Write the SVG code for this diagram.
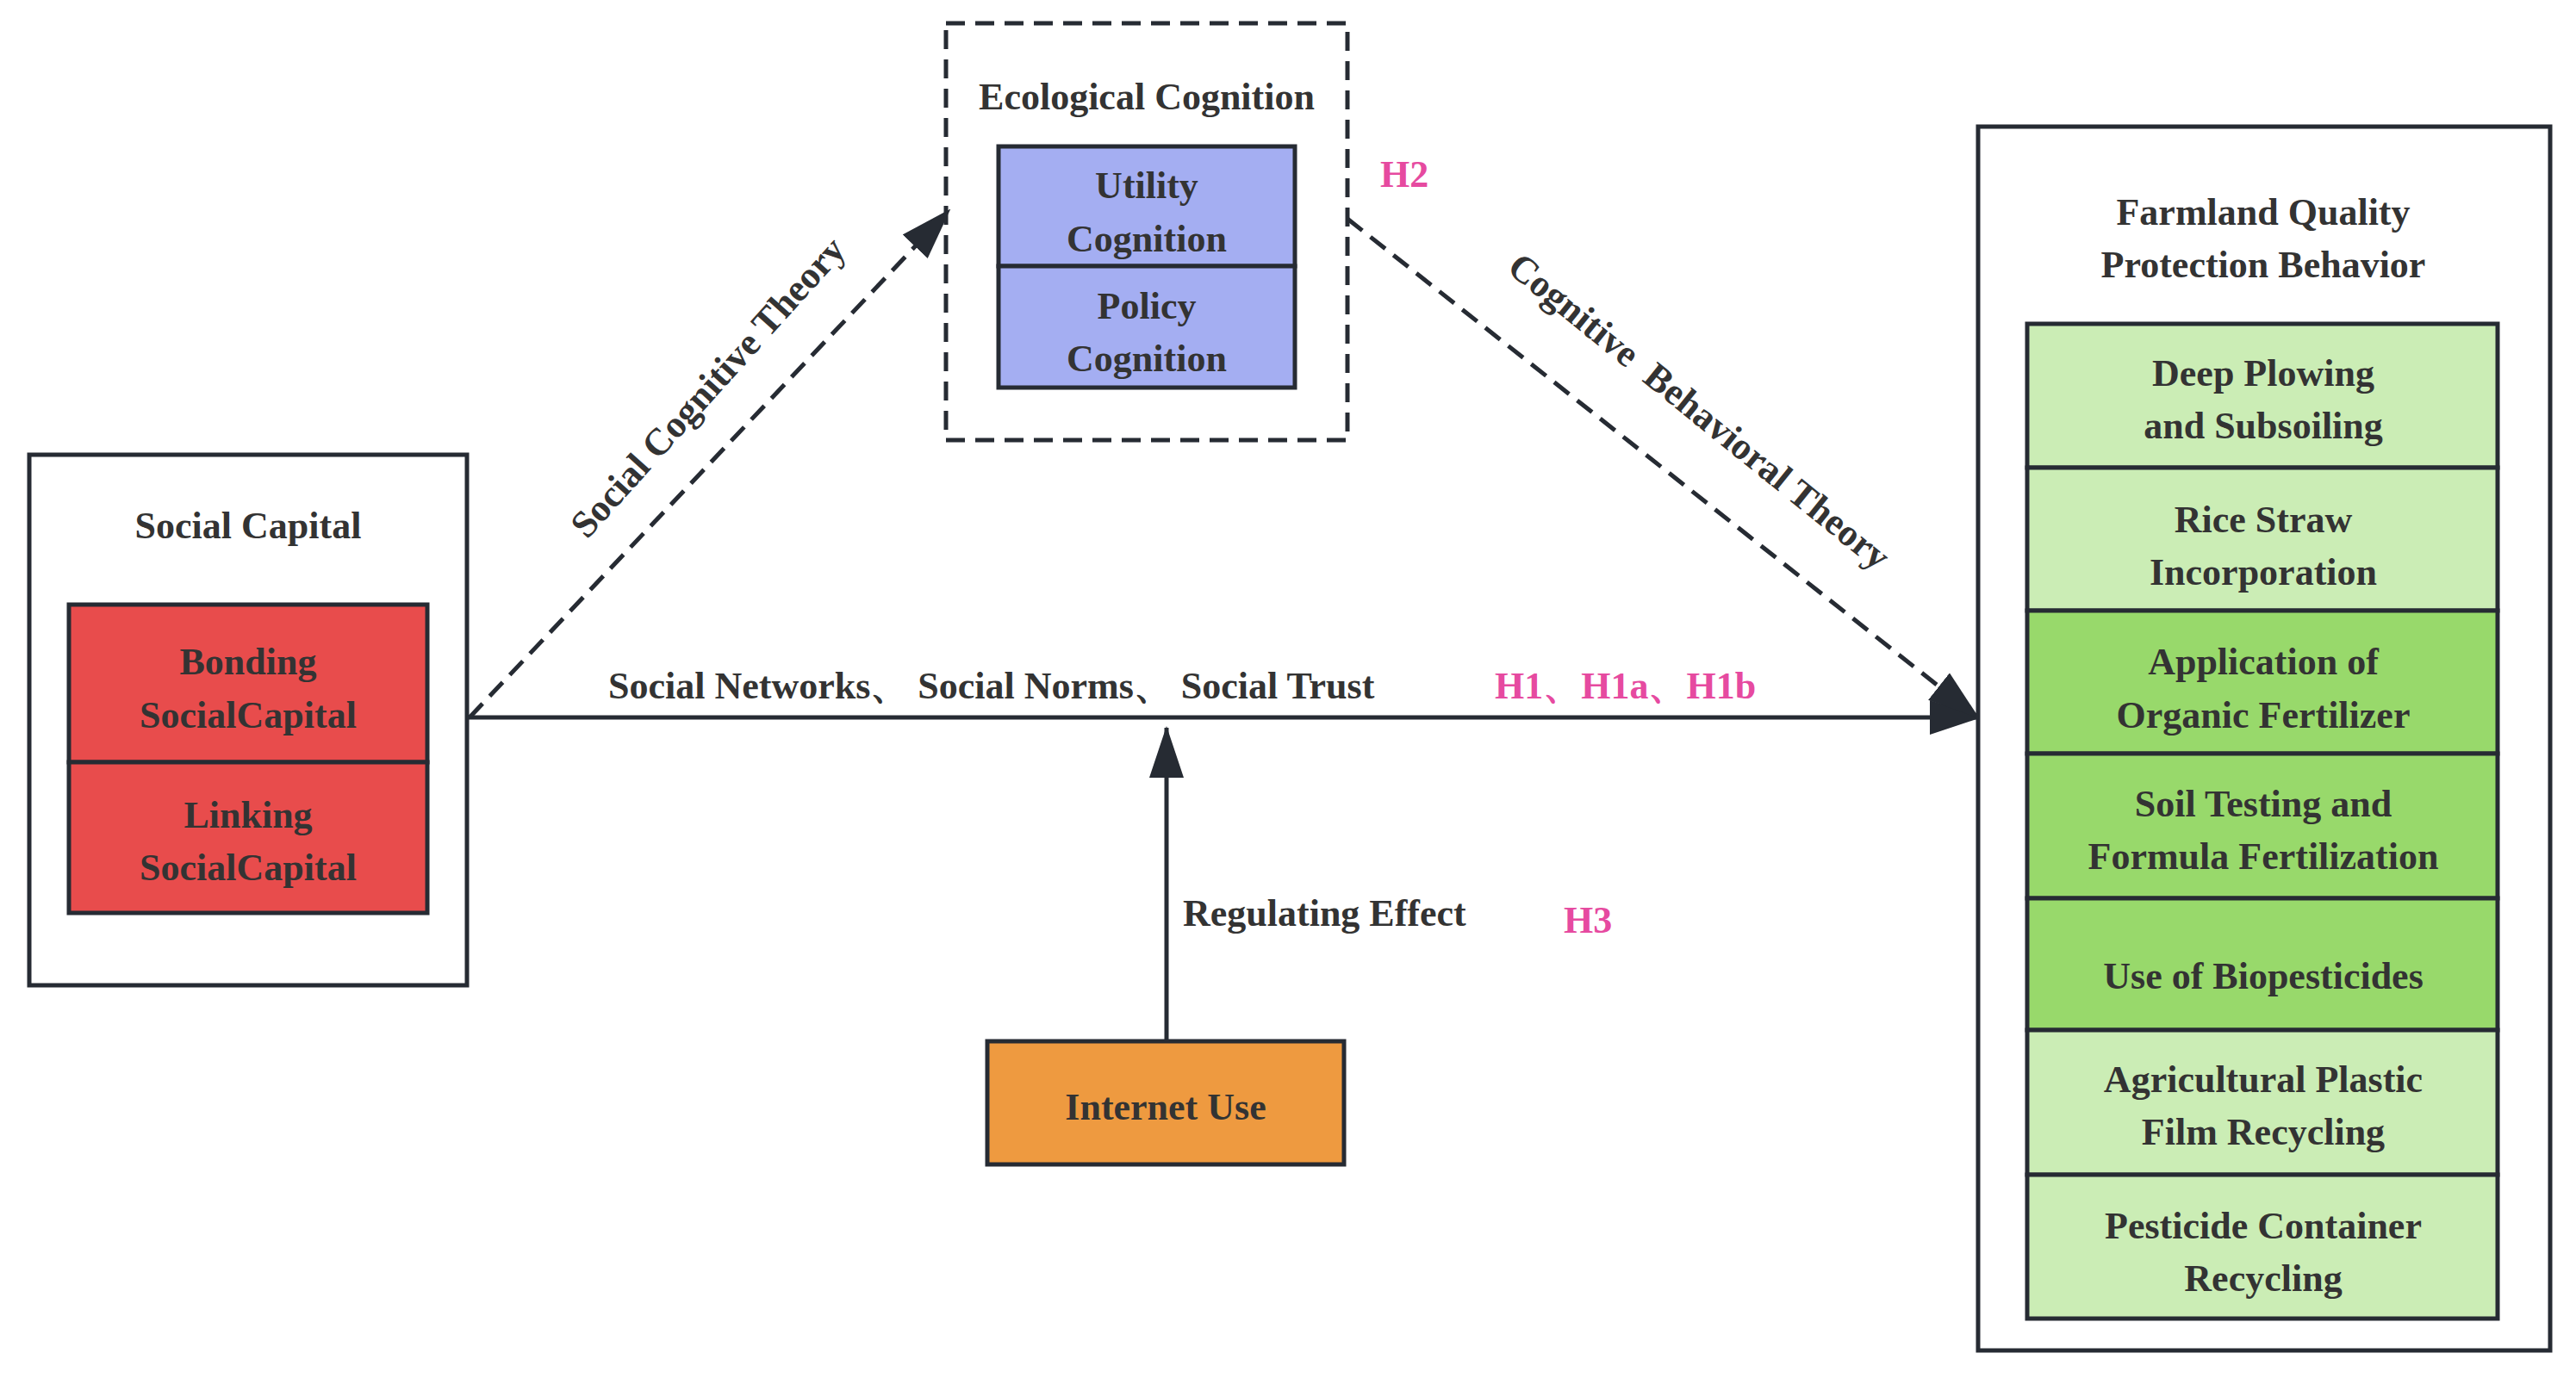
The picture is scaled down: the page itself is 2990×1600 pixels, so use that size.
<svg xmlns="http://www.w3.org/2000/svg" width="2990" height="1600" viewBox="0 0 2990 1600">
<defs>
<style>
text{font-family:"Liberation Serif","Times New Roman",serif;font-weight:bold;font-size:44px;fill:#333;text-anchor:middle}
.pk{fill:#e64aa0;text-anchor:start}
.st{text-anchor:start}
.bx{stroke:#262b33;stroke-width:5}
.ln{stroke:#262b33;stroke-width:5;fill:none}
.dl{stroke:#262b33;stroke-width:5;fill:none;stroke-dasharray:22 12}
.lg{fill:#cbedb5}.dg{fill:#98d96b}
</style>
<marker id="ah" viewBox="0 0 20 20" refX="18" refY="10" markerWidth="12" markerHeight="12" markerUnits="userSpaceOnUse" orient="auto" overflow="visible"><path d="M-40,-18 L18,10 L-40,38 Z" fill="#262b33" transform="scale(1)"/></marker>
<marker id="a2" viewBox="0 0 60 40" refX="58" refY="20" markerWidth="60" markerHeight="40" markerUnits="userSpaceOnUse" orient="auto"><path d="M0,0 L60,20 L0,40 Z" fill="#262b33"/></marker>
</defs>
<rect width="2990" height="1600" fill="#fff"/>
<g id="connectors">
<line class="ln" x1="542" y1="833" x2="2298" y2="833" marker-end="url(#a2)"/>
<line class="dl" x1="545" y1="833" x2="1102" y2="244" marker-end="url(#a2)"/>
<line class="dl" x1="1564" y1="254" x2="2296" y2="833" marker-end="url(#a2)"/>
<line class="ln" x1="1354" y1="1209" x2="1354" y2="845" marker-end="url(#a2)"/>
<text class="st" x="706" y="811">Social Networks、 Social Norms、 Social Trust</text>
<text class="pk" x="1735" y="811">H1、H1a、H1b</text>
<text transform="translate(822,450) rotate(-48)" x="0" y="14">Social Cognitive Theory</text>
<text transform="translate(1972,478) rotate(39)" x="0" y="14" xml:space="preserve">Cognitive  Behavioral Theory</text>
<text class="st" x="1373" y="1075">Regulating Effect</text>
<text class="pk" x="1815" y="1083">H3</text>
<text class="pk" x="1602" y="217">H2</text>
</g>
<g id="social-capital">
<rect class="bx" x="34" y="528" width="508" height="616" fill="#fff"/>
<text x="288" y="625">Social Capital</text>
<rect class="bx" x="80" y="702" width="416" height="183" fill="#e84c4c"/>
<text x="288" y="783">Bonding</text><text x="288" y="845">SocialCapital</text>
<rect class="bx" x="80" y="885" width="416" height="175" fill="#e84c4c"/>
<text x="288" y="961">Linking</text><text x="288" y="1022">SocialCapital</text>
</g>
<g id="ecological-cognition">
<rect class="dl" x="1098" y="27" width="466" height="484" fill="none"/>
<text x="1331" y="127">Ecological Cognition</text>
<rect class="bx" x="1159" y="170" width="344" height="139" fill="#a4aef2"/>
<text x="1331" y="230">Utility</text><text x="1331" y="292">Cognition</text>
<rect class="bx" x="1159" y="309" width="344" height="141" fill="#a4aef2"/>
<text x="1331" y="370">Policy</text><text x="1331" y="431">Cognition</text>
</g>
<g id="internet-use">
<rect class="bx" x="1146" y="1209" width="414" height="143" fill="#ee9a40"/>
<text x="1353" y="1300">Internet Use</text>
</g>
<g id="farmland">
<rect class="bx" x="2296" y="147" width="664" height="1421" fill="#fff"/>
<text x="2627" y="261">Farmland Quality</text>
<text x="2627" y="322">Protection Behavior</text>
<rect class="bx lg" x="2353" y="376" width="546" height="167"/>
<text x="2627" y="448">Deep Plowing</text><text x="2627" y="509">and Subsoiling</text>
<rect class="bx lg" x="2353" y="543" width="546" height="166"/>
<text x="2627" y="618">Rice Straw</text><text x="2627" y="679">Incorporation</text>
<rect class="bx dg" x="2353" y="709" width="546" height="166"/>
<text x="2627" y="783">Application of</text><text x="2627" y="845">Organic Fertilizer</text>
<rect class="bx dg" x="2353" y="875" width="546" height="168"/>
<text x="2627" y="948">Soil Testing and</text><text x="2627" y="1009">Formula Fertilization</text>
<rect class="bx dg" x="2353" y="1043" width="546" height="153"/>
<text x="2627" y="1148">Use of Biopesticides</text>
<rect class="bx lg" x="2353" y="1196" width="546" height="168"/>
<text x="2627" y="1268">Agricultural Plastic</text><text x="2627" y="1329">Film Recycling</text>
<rect class="bx lg" x="2353" y="1364" width="546" height="167"/>
<text x="2627" y="1438">Pesticide Container</text><text x="2627" y="1499">Recycling</text>
</g>
</svg>
